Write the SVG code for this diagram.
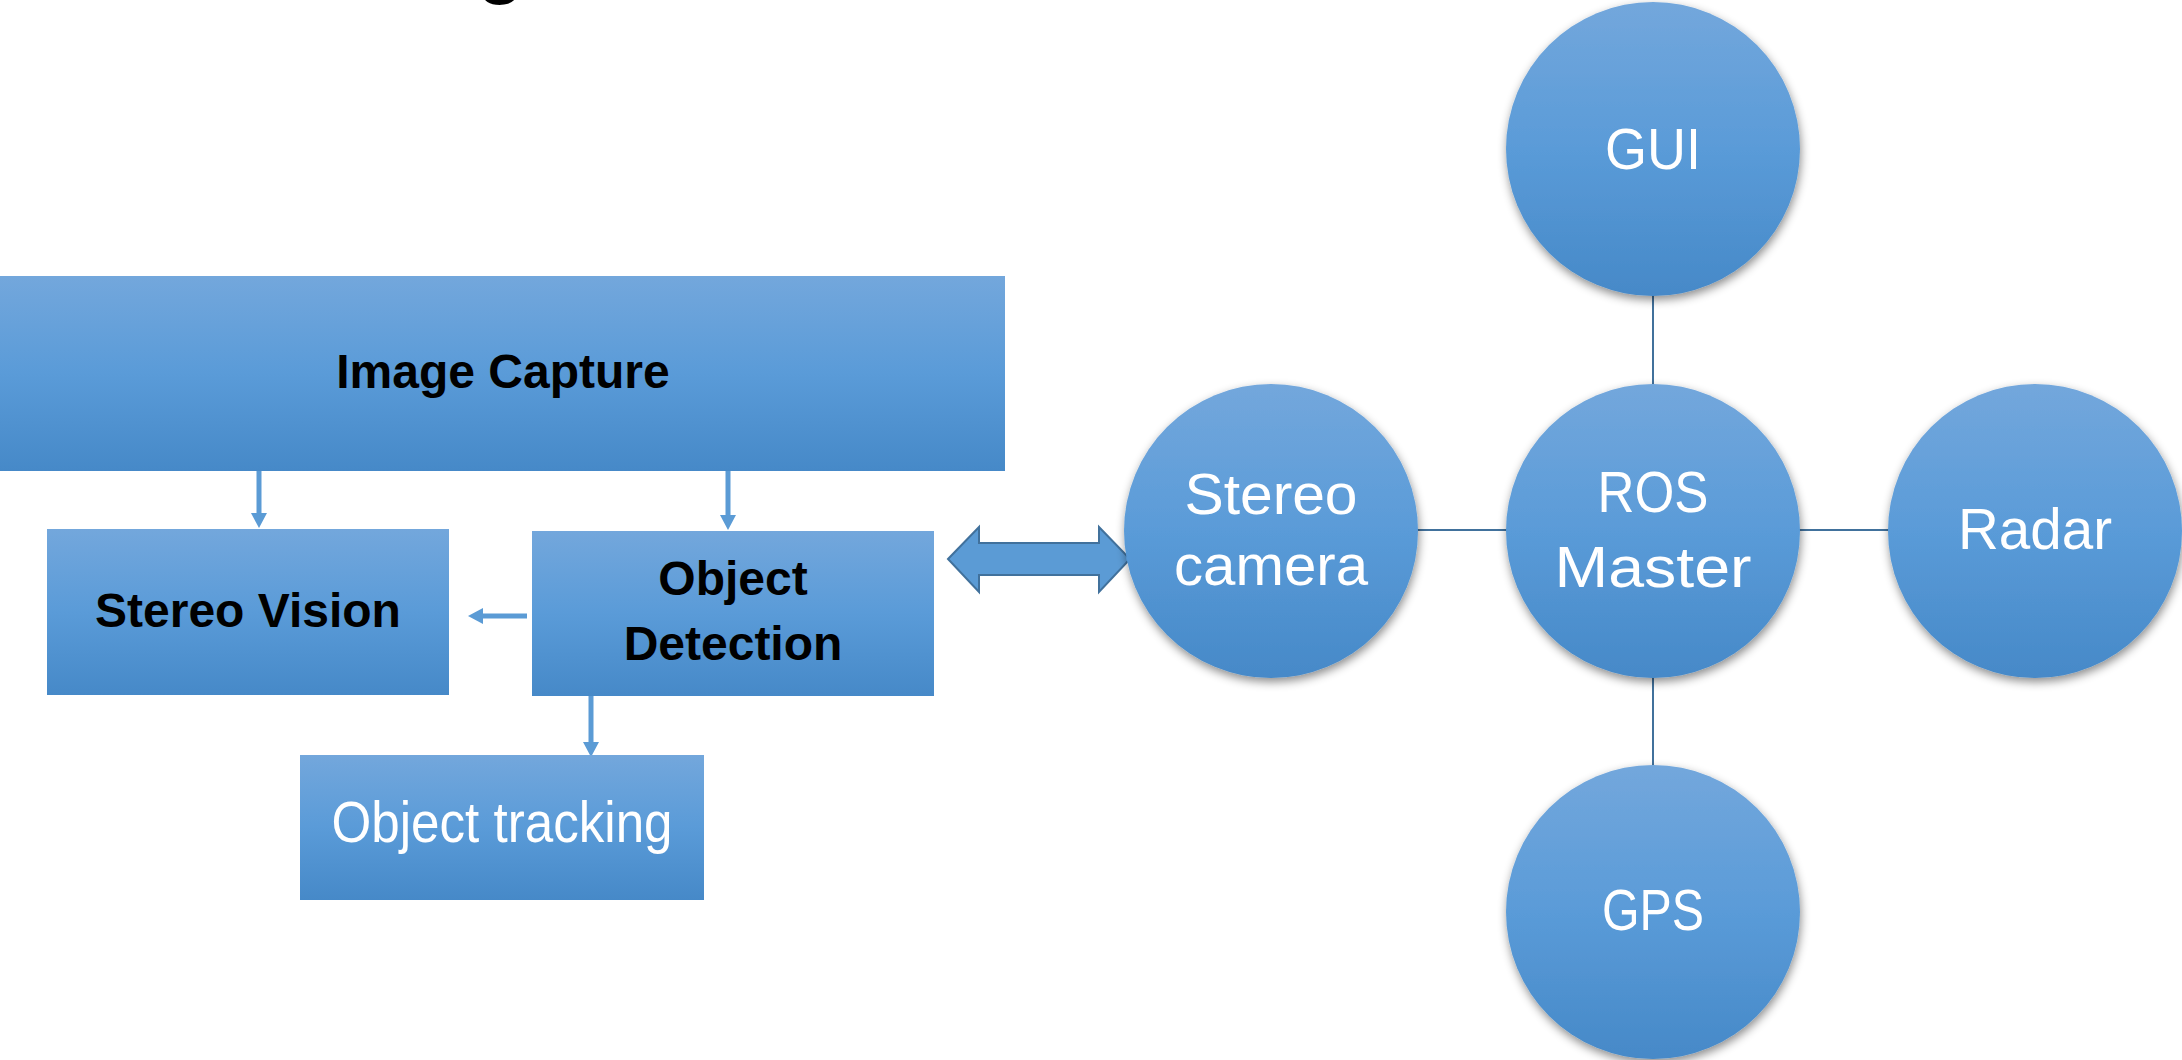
<svg xmlns="http://www.w3.org/2000/svg" width="2182" height="1060" viewBox="0 0 2182 1060">
  <defs>
    <linearGradient id="fillBlue" x1="0" y1="0" x2="0" y2="1">
      <stop offset="0" stop-color="#73a7dc"/>
      <stop offset="0.5" stop-color="#5a9bd8"/>
      <stop offset="1" stop-color="#4689c8"/>
    </linearGradient>
    <filter id="softShadow" x="-20%" y="-20%" width="140%" height="140%">
      <feDropShadow dx="1" dy="4" stdDeviation="5" flood-color="#000" flood-opacity="0.45"/>
    </filter>
    <marker id="arrowHead" viewBox="0 0 15 16" markerWidth="15" markerHeight="16" refX="0" refY="8" orient="auto" markerUnits="userSpaceOnUse">
      <path d="M0,0 L15,8 L0,16 Z" fill="#5b9bd5"/>
    </marker>
  </defs>
  <style>
    .box { fill: url(#fillBlue); }
    .disc { fill: url(#fillBlue); filter: url(#softShadow); }
    .bold { font-family: "Liberation Sans", Arial, sans-serif; font-weight: bold; font-size: 48px; fill: #000; text-anchor: middle; }
    .light { font-family: "Liberation Sans", Arial, sans-serif; font-size: 58px; fill: #fff; text-anchor: middle; }
    .flow { stroke: #5b9bd5; stroke-width: 5; fill: none; marker-end: url(#arrowHead); }
    .link { stroke: #41719c; stroke-width: 2; fill: none; }
  </style>

  <rect width="2182" height="1060" fill="#ffffff"/>

  <!-- heading, mostly above the visible area -->
  <text x="476" y="-13" font-family="Liberation Sans, Arial, sans-serif" font-size="88" fill="#000">g</text>

  <!-- connectors -->
  <g id="connectors">
    <line class="flow" x1="259" y1="469" x2="259" y2="513"/>
    <line class="flow" x1="728" y1="469" x2="728" y2="515"/>
    <line class="flow" x1="527" y1="616" x2="483" y2="616"/>
    <line class="flow" x1="591" y1="687" x2="591" y2="742"/>
    <path d="M948,559 L979,527 L979,543 L1099,543 L1099,527 L1130,559 L1099,592 L1099,575 L979,575 L979,592 Z" fill="#5b9bd5" stroke="#41719c" stroke-width="2" stroke-linejoin="miter"/>
    <line class="link" x1="1653" y1="294" x2="1653" y2="386"/>
    <line class="link" x1="1653" y1="676" x2="1653" y2="767"/>
    <line class="link" x1="1416" y1="530" x2="1508" y2="530"/>
    <line class="link" x1="1798" y1="530" x2="1890" y2="530"/>
  </g>

  <!-- pipeline blocks -->
  <g id="image-capture">
    <rect class="box" x="0" y="276" width="1005" height="195"/>
    <text class="bold" x="503" y="388">Image Capture</text>
  </g>
  <g id="stereo-vision">
    <rect class="box" x="47" y="529" width="402" height="166"/>
    <text class="bold" x="248" y="627">Stereo Vision</text>
  </g>
  <g id="object-detection">
    <rect class="box" x="532" y="531" width="402" height="165"/>
    <text class="bold" x="733" y="595">Object</text>
    <text class="bold" x="733" y="660">Detection</text>
  </g>
  <g id="object-tracking">
    <rect class="box" x="300" y="755" width="404" height="145"/>
    <text class="light" x="502" y="842" font-size="50" textLength="341" lengthAdjust="spacingAndGlyphs">Object tracking</text>
  </g>

  <!-- ROS nodes -->
  <g id="gui">
    <circle class="disc" cx="1653" cy="149" r="147"/>
    <text class="light" x="1653" y="169" textLength="96" lengthAdjust="spacingAndGlyphs">GUI</text>
  </g>
  <g id="stereo-camera">
    <circle class="disc" cx="1271" cy="531" r="147"/>
    <text class="light" x="1271" y="514" textLength="173" lengthAdjust="spacingAndGlyphs">Stereo</text>
    <text class="light" x="1271" y="585" textLength="194" lengthAdjust="spacingAndGlyphs">camera</text>
  </g>
  <g id="ros-master">
    <circle class="disc" cx="1653" cy="531" r="147"/>
    <text class="light" x="1653" y="512" textLength="111" lengthAdjust="spacingAndGlyphs">ROS</text>
    <text class="light" x="1653" y="587" textLength="197" lengthAdjust="spacingAndGlyphs">Master</text>
  </g>
  <g id="radar">
    <circle class="disc" cx="2035" cy="531" r="147"/>
    <text class="light" x="2035" y="549" textLength="154" lengthAdjust="spacingAndGlyphs">Radar</text>
  </g>
  <g id="gps">
    <circle class="disc" cx="1653" cy="912" r="147"/>
    <text class="light" x="1653" y="930" textLength="102" lengthAdjust="spacingAndGlyphs">GPS</text>
  </g>
</svg>
